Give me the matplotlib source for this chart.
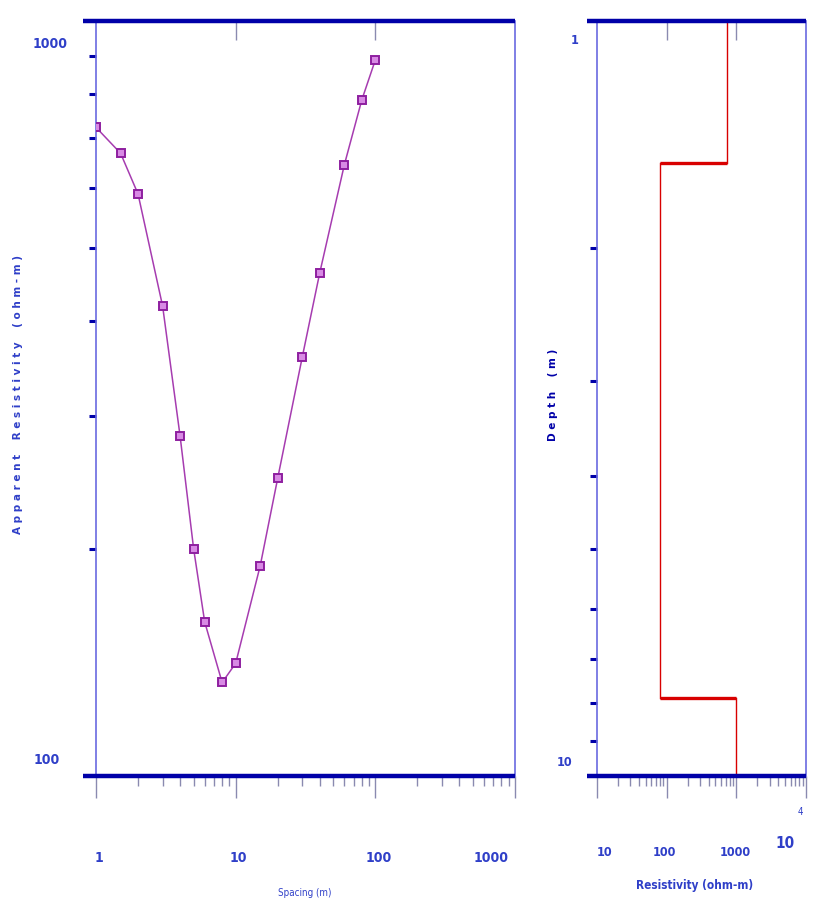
import matplotlib
matplotlib.use("Agg")
import matplotlib.pyplot as plt
from matplotlib.ticker import LogLocator, NullFormatter, NullLocator, FixedLocator
from matplotlib.transforms import blended_transform_factory, offset_copy

# Sounding curve: electrode spacing (m) vs apparent resistivity (ohm-m)
SPACING = [1, 1.5, 2, 3, 4, 5, 6, 8, 10, 15, 20, 30, 40, 60, 80, 100]
APP_RES = [723, 668, 590, 419, 282, 200, 160, 133, 141, 190, 248, 359, 464, 645, 786, 888]

# Layered model: resistivity per layer and depth of layer boundaries
LAYER_RES = [735, 80, 1000]
LAYER_TOPS = [1.54, 7.88]

X_TICK_LABELS = ["1", "10", "100", "1000"]
MODEL_X_LABELS = ["10", "100", "1000"]

AXIS_BLUE = "#6a6ae0"
SPINE_BLUE = "#0000a8"
LABEL_BLUE = "#2f3fc8"
CURVE = "#a63cb0"
MODEL_RED = "#d80000"

NARROW_KW = dict(family=["Liberation Sans Narrow", "DejaVu Sans"], fontstretch="condensed")

fig = plt.figure(figsize=(8.17, 9.10), dpi=100)
ax = fig.add_axes([96 / 817, 1 - 776 / 910, 419 / 817, 755 / 910])
ax2 = fig.add_axes([597 / 817, 1 - 776 / 910, 209 / 817, 755 / 910])


def style_frame(a):
    for side in ("left", "right"):
        a.spines[side].set_color(AXIS_BLUE)
        a.spines[side].set_linewidth(1.2)
    for side in ("top", "bottom"):
        a.spines[side].set_visible(False)
    # heavy top/bottom rules that run a bit past the left edge
    for yy in (0, 1):
        a.plot([-0.03 if a is ax else -0.05, 1.0], [yy, yy], transform=a.transAxes,
               color=SPINE_BLUE, lw=3.2, clip_on=False, solid_capstyle="butt", zorder=5)
    a.tick_params(axis="x", which="major", direction="out", length=16, width=1,
                  color="#8a8ab0", labelbottom=False, top=False)
    a.tick_params(axis="x", which="minor", direction="out", length=7, width=1,
                  color="#8a8ab0")
    a.tick_params(axis="y", which="both", direction="out", length=0, labelleft=False)
    a.yaxis.set_major_formatter(NullFormatter())
    a.yaxis.set_minor_formatter(NullFormatter())
    a.xaxis.set_minor_formatter(NullFormatter())


def top_ticks(a, values):
    # short inward marks hanging from the top rule
    sec = a.secondary_xaxis("top")
    sec.xaxis.set_major_locator(FixedLocator(values))
    sec.xaxis.set_minor_locator(NullLocator())
    sec.tick_params(direction="in", length=14, width=1, color="#8a8ab0", labeltop=False)
    sec.spines["top"].set_visible(False)


def left_marks(a, values):
    a.yaxis.set_major_locator(FixedLocator(values))
    a.yaxis.set_minor_locator(NullLocator())
    a.tick_params(axis="y", which="major", direction="out", length=5, width=2.2,
                  color=SPINE_BLUE, labelleft=False)


# ---- left panel: apparent resistivity curve
ax.set_xscale("log")
ax.set_yscale("log")
ax.set_xlim(1, 1000)
ax.set_ylim(100, 1000)
style_frame(ax)
ax.xaxis.set_major_locator(LogLocator(base=10))
ax.xaxis.set_minor_locator(LogLocator(base=10, subs=range(2, 10)))
left_marks(ax, [200, 300, 400, 500, 600, 700, 800, 900])
top_ticks(ax, [10, 100])

ax.plot(SPACING, APP_RES, color=CURVE, lw=1.1, marker="s", ms=5.5,
        mfc="#d88ae4", mec="#8e1fa0", mew=1.4, zorder=4)

tr = blended_transform_factory(ax.transData, fig.transFigure)
for val, lab in zip([1, 10, 100, 1000], X_TICK_LABELS):
    ha = "right" if lab == "1000" else "center"
    ax.text(val, 1 - 858 / 910, lab, transform=offset_copy(tr, fig, x=-6 if ha == "right" else 3, units="dots"),
            ha=ha, va="center", fontsize=10, fontweight="bold", color=LABEL_BLUE,
            **NARROW_KW)
fig.text(305 / 817, 1 - 893 / 910, "Spacing (m)", ha="center", va="center",
         fontsize=7, color=LABEL_BLUE, **NARROW_KW)
fig.text(50 / 817, 1 - 44 / 910, "1000", ha="center", va="center", fontsize=10,
         fontweight="bold", color=LABEL_BLUE, **NARROW_KW)
fig.text(47 / 817, 1 - 760 / 910, "100", ha="center", va="center", fontsize=10,
         fontweight="bold", color=LABEL_BLUE, **NARROW_KW)
fig.text(18 / 817, 1 - 395 / 910, " ".join("Apparent Resistivity (ohm-m)").replace("   ", "    "),
         rotation=90, ha="center", va="center", fontsize=7.5, fontweight="bold",
         color=LABEL_BLUE)

# ---- right panel: layered resistivity model vs depth
ax2.set_xscale("log")
ax2.set_yscale("log")
ax2.set_xlim(10, 10000)
ax2.set_ylim(10, 1)
style_frame(ax2)
ax2.xaxis.set_major_locator(LogLocator(base=10))
ax2.xaxis.set_minor_locator(LogLocator(base=10, subs=range(2, 10)))
left_marks(ax2, [2, 3, 4, 5, 6, 7, 8, 9])
top_ticks(ax2, [100, 1000])

bounds = [1] + LAYER_TOPS + [10]
for i, res in enumerate(LAYER_RES):
    ax2.plot([res, res], [bounds[i], bounds[i + 1]], color=MODEL_RED, lw=1.0, zorder=3)
for i, z in enumerate(LAYER_TOPS):
    ax2.plot([LAYER_RES[i], LAYER_RES[i + 1]], [z, z], color=MODEL_RED, lw=2.4,
             solid_capstyle="butt", zorder=3)

tr2 = blended_transform_factory(ax2.transData, fig.transFigure)
for val, lab, dx in zip([10, 100, 1000], MODEL_X_LABELS, [8, -2, -1]):
    ax2.text(val, 1 - 852 / 910, lab, transform=offset_copy(tr2, fig, x=dx, units="dots"),
             ha="center", va="center", fontsize=9, fontweight="bold", color=LABEL_BLUE,
             **NARROW_KW)
ax2.text(10000, 1 - 843 / 910, "10", transform=offset_copy(tr2, fig, x=-21, units="dots"),
         ha="center", va="center", fontsize=11, fontweight="bold", color=LABEL_BLUE,
         **NARROW_KW)
ax2.text(10000, 1 - 812 / 910, "4", transform=offset_copy(tr2, fig, x=-6, units="dots"),
         ha="center", va="center", fontsize=7, color=LABEL_BLUE, **NARROW_KW)
fig.text(695 / 817, 1 - 886 / 910, "Resistivity (ohm-m)", ha="center", va="center",
         fontsize=8.5, fontweight="bold", color=LABEL_BLUE, **NARROW_KW)
fig.text(575 / 817, 1 - 40 / 910, "1", ha="center", va="center", fontsize=9,
         fontweight="bold", color=LABEL_BLUE, **NARROW_KW)
fig.text(565 / 817, 1 - 762 / 910, "10", ha="center", va="center", fontsize=9,
         fontweight="bold", color=LABEL_BLUE, **NARROW_KW)
fig.text(553 / 817, 1 - 395 / 910, " ".join("Depth (m)").replace("   ", "    "),
         rotation=90, ha="center", va="center", fontsize=7.5, fontweight="bold",
         color=SPINE_BLUE)

fig.savefig("out.png", dpi=100)
